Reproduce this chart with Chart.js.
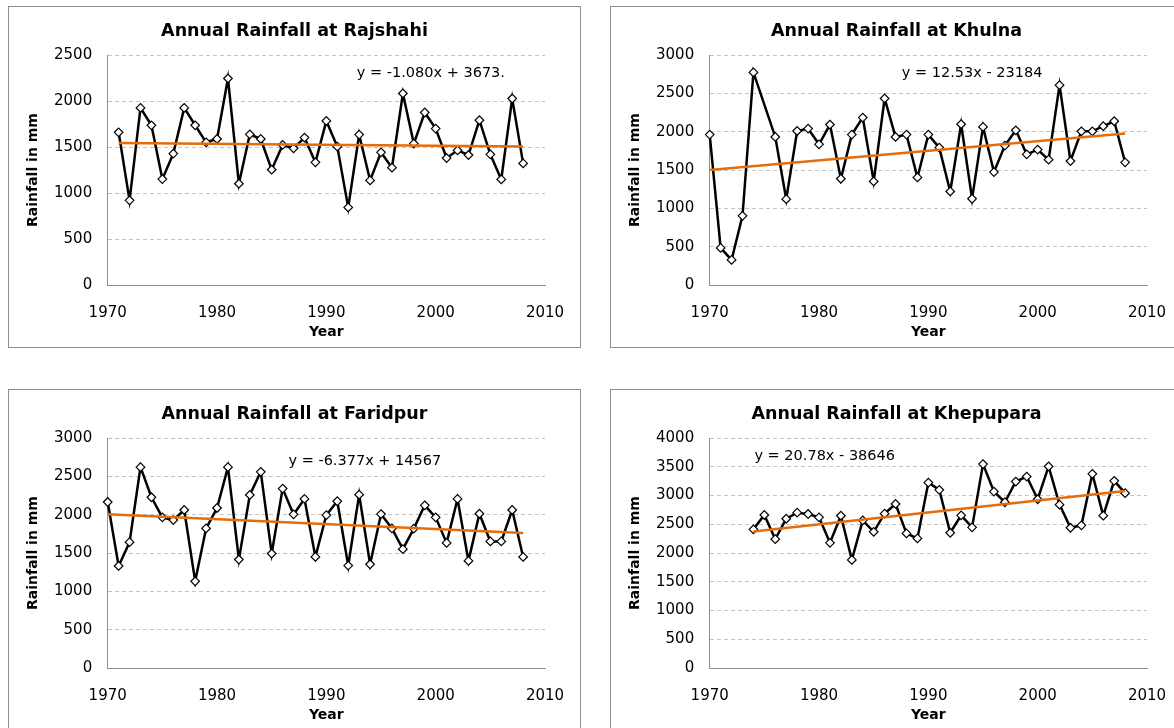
<!DOCTYPE html>
<html>
<head>
<meta charset="utf-8">
<script src="https://cdn.jsdelivr.net/npm/chart.js@4.4.0/dist/chart.umd.min.js"></script>
<style>
    body { margin: 0; width: 1174px; height: 728px; overflow: hidden; background: #fff; position: relative; }
    .panel { position: absolute; width: 571px; height: 340px; border: 1px solid #8e8e8e; background: #fff; }
    .panel canvas { display: block; }
</style>
</head>
<body>
<div class="panel" style="left:8px;top:6px"><canvas id="c0" width="571" height="340"></canvas></div>
<div class="panel" style="left:610px;top:6px"><canvas id="c1" width="571" height="340"></canvas></div>
<div class="panel" style="left:8px;top:389px"><canvas id="c2" width="571" height="340"></canvas></div>
<div class="panel" style="left:610px;top:389px"><canvas id="c3" width="571" height="340"></canvas></div>

<script>
// Years (x values)
const years = [1970, 1971, 1972, 1973, 1974, 1975, 1976, 1977, 1978, 1979,
    1980, 1981, 1982, 1983, 1984, 1985, 1986, 1987, 1988, 1989,
    1990, 1991, 1992, 1993, 1994, 1995, 1996, 1997, 1998, 1999,
    2000, 2001, 2002, 2003, 2004, 2005, 2006, 2007, 2008]

// Annual rainfall in mm, null = no record
const rajshahi = [null, 1660, 920, 1925, 1736, 1151, 1428, 1925, 1736, 1551,
    1587, 2245, 1101, 1638, 1587, 1253, 1522, 1486, 1602, 1333,
    1783, 1504, 843, 1635, 1137, 1442, 1275, 2082, 1537, 1875,
    1700, 1380, 1464, 1413, 1791, 1420, 1148, 2027, 1322]
const khulna = [1962, 484, 327, 902, 2773, null, 1931, 1120, 2009, 2040,
    1835, 2093, 1386, 1962, 2184, 1351, 2433, 1931, 1962, 1403,
    1962, 1792, 1220, 2097, 1125, 2062, 1473, 1818, 2018, 1704,
    1766, 1635, 2607, 1617, 2005, 2005, 2071, 2136, 1600]
const faridpur = [2165, 1331, 1641, 2620, 2227, 1965, 1930, 2061, 1131, 1821,
    2087, 2620, 1415, 2257, 2559, 1493, 2340, 2004, 2205, 1449,
    1995, 2175, 1336, 2261, 1353, 2008, 1821, 1550, 1818, 2122,
    1965, 1632, 2205, 1397, 2012, 1651, 1651, 2061, 1449]
const khepupara = [null, null, null, null, 2411, 2661, 2241, 2596, 2701, 2678,
    2620, 2177, 2648, 1880, 2568, 2369, 2684, 2853, 2341, 2254,
    3225, 3098, 2352, 2655, 2446, 3546, 3068, 2883, 3243, 3330,
    2935, 3505, 2841, 2439, 2481, 3377, 2649, 3255, 3040]

const stations = ['Rajshahi', 'Khulna', 'Faridpur', 'Khepupara']
const rainfall = [rajshahi, khulna, faridpur, khepupara]
const yMax = [2500, 3000, 3000, 4000]

// Linear trend lines as printed on the charts
const trendSlope = [-1.080, 12.53, -6.377, 20.78]
const trendIntercept = [3673, -23184, 14567, -38646]
const trendText = ['y = -1.080x + 3673.', 'y = 12.53x - 23184', 'y = -6.377x + 14567', 'y = 20.78x - 38646']

// where the equation sits, as a fraction of the plot area
const eqAt = [[0.739, 0.079], [0.6, 0.079], [0.588, 0.103], [0.263, 0.08]]

const eqLabel = {
    id: 'eqLabel',
    afterDatasetsDraw(chart, args, opts) {
        const ctx = chart.ctx
        const a = chart.chartArea
        ctx.save()
        ctx.font = '14.5px "DejaVu Sans"'
        ctx.fillStyle = '#000'
        ctx.textAlign = 'center'
        ctx.textBaseline = 'middle'
        ctx.fillText(opts.text, a.left + opts.at[0] * (a.right - a.left), a.top + opts.at[1] * (a.bottom - a.top))
        ctx.restore()
    }
}

window.onload = function () {
    'use strict'

    for (let i = 0; i < 4; i++) {
        const pts = []
        years.forEach((yr, k) => {
            pts.push({x: yr, y: rainfall[i][k]})
        })
        const withData = pts.filter(p => p.y !== null)
        const first = withData[0].x
        const last = withData[withData.length - 1].x
        const trend = [first, last].map(x => ({x: x, y: trendSlope[i] * x + trendIntercept[i]}))

        new Chart(document.getElementById('c' + i), {
            type: 'line',
            data: {
                datasets: [{
                    data: withData,
                    borderColor: '#000',
                    borderWidth: 2.5,
                    tension: 0,
                    spanGaps: true,
                    pointStyle: 'rectRot',
                    pointRadius: 4.3,
                    pointBackgroundColor: '#fff',
                    pointBorderColor: '#000',
                    pointBorderWidth: 1.2,
                    clip: false,
                    order: 1
                }, {
                    data: trend,
                    borderColor: '#E46C0A',
                    borderWidth: 2.5,
                    pointRadius: 0,
                    clip: false,
                    order: 0
                }]
            },
            options: {
                responsive: false,
                animation: false,
                layout: {padding: 0},
                plugins: {
                    legend: {display: false},
                    tooltip: {enabled: false},
                    title: {
                        display: true,
                        text: 'Annual Rainfall at ' + stations[i],
                        color: '#000',
                        font: {family: 'DejaVu Sans', size: 17.5, weight: 'bold'},
                        padding: {top: 14, bottom: 13}
                    },
                    eqLabel: {text: trendText[i], at: eqAt[i]}
                },
                scales: {
                    x: {
                        type: 'linear',
                        min: 1970,
                        max: 2010,
                        afterFit(scale) { scale.height = 62 },
                        // hidden tick length gives the gap under the axis
                        grid: {display: false, drawTicks: true, tickLength: 19},
                        border: {display: true, color: '#8e8e8e', width: 1},
                        ticks: {
                            stepSize: 10,
                            padding: 0.5,
                            maxRotation: 0,
                            color: '#000',
                            font: {family: 'DejaVu Sans', size: 15},
                            callback: v => String(v)
                        },
                        title: {
                            display: true,
                            text: 'Year',
                            color: '#000',
                            font: {family: 'DejaVu Sans', size: 14, weight: 'bold'},
                            padding: {top: 0, bottom: 6}
                        }
                    },
                    y: {
                        min: 0,
                        max: yMax[i],
                        afterFit(scale) { scale.width = 98.7 },
                        grid: {color: '#c4c4c4', lineWidth: 1, drawTicks: false},
                        border: {display: true, color: '#8e8e8e', width: 1, dash: [4, 3]},
                        ticks: {
                            stepSize: 500,
                            padding: 15.5,
                            color: '#000',
                            font: {family: 'DejaVu Sans', size: 15},
                            callback: v => String(v)
                        },
                        title: {
                            display: true,
                            text: 'Rainfall in mm',
                            color: '#000',
                            font: {family: 'DejaVu Sans', size: 14, weight: 'bold'},
                            padding: {top: 16, bottom: 0}
                        }
                    },
                    // empty right-hand strip, keeps the plot off the right edge
                    pad: {
                        position: 'right',
                        afterFit(scale) { scale.width = 35 },
                        grid: {display: false, drawTicks: false},
                        border: {display: false},
                        ticks: {display: false}
                    }
                }
            },
            plugins: [eqLabel]
        })
    }
}
</script>
</body>
</html>
